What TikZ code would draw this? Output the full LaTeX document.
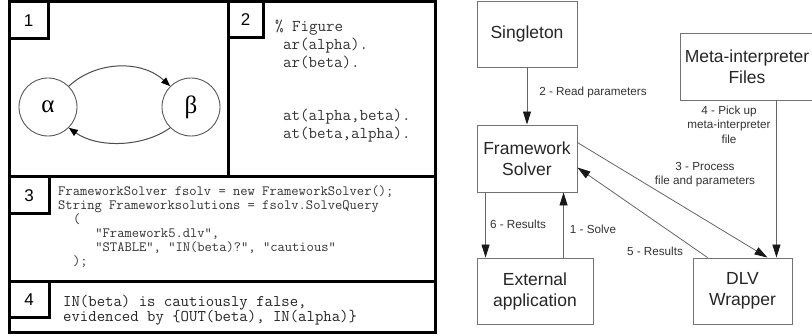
\documentclass[tikz,border=0pt]{standalone}
\usepackage{fontspec}
\setmainfont{Liberation Sans}
\newfontfamily\grkfont{Liberation Serif}
\usetikzlibrary{arrows.meta}
\begin{document}
\begin{tikzpicture}[x=1pt,y=-1pt,
  frame/.style={line width=3pt, draw=black},
  numbox/.style={draw=black, line width=3pt, inner sep=0, font=\fontsize{17}{20}\selectfont},
  circ/.style={circle, draw=black!65, line width=0.9pt, minimum size=58pt, inner sep=0, font=\grkfont\fontsize{25}{28}\selectfont},
  carr/.style={draw=black!70, line width=1pt, -{Triangle[length=9pt,width=7pt,color=black]}},
  codeA/.style={font=\ttfamily\fontsize{16.5}{17}\selectfont\frenchspacing, anchor=base west, inner sep=0, text=black!80},
  codeB/.style={font=\ttfamily\fontsize{14.15}{14}\selectfont\frenchspacing, anchor=base west, inner sep=0, text=black!80},
  codeC/.style={font=\ttfamily\fontsize{16.3}{17}\selectfont\frenchspacing, anchor=base west, inner sep=0, text=black!85},
  box/.style={draw=black!55, line width=0.9pt, font=\fontsize{17.5}{21}\selectfont, text=black!85, align=center, inner sep=0},
  arr/.style={draw=black!60, line width=0.8pt, -{Triangle[length=13pt,width=8pt,color=black!90]}},
  lbl/.style={font=\fontsize{11.7}{14.5}\selectfont, text=black!80, align=center, inner sep=0}
]
\clip (0,0) rectangle (812,336);
\fill[white] (0,0) rectangle (812,336);

% ---- left frame ----
\draw[frame] (9,2) rectangle (435,333);
\draw[frame] (228,2) -- (228,177);
\draw[frame] (9,177) -- (435,177);
\draw[frame] (9,282) -- (435,282);

\node[numbox, minimum width=39pt, minimum height=37pt] (n1) at (28.5,20.5) {1};
\node[numbox, minimum width=35pt, minimum height=36pt] (n2) at (245.5,20) {2};
\node[numbox, minimum width=40pt, minimum height=37pt] (n3) at (29,195.5) {3};
\node[numbox, minimum width=40pt, minimum height=36pt] (n4) at (29,300) {4};

% panel 1
\node[circ] (al) at (48,107) {α};
\node[circ] (be) at (191,107) {β};
\draw[carr] (al.45) .. controls +(28,-26) and +(-28,-26) .. (be.135);
\draw[carr] (be.-135) .. controls +(-28,20) and +(28,20) .. (al.-45);

% panel 2
\node[codeA] (c2a) at (275,32) {\%\ Figure};
\node[codeA] (c2b) at (283,50) {ar(alpha).};
\node[codeA] (c2c) at (283,68) {ar(beta).};
\node[codeA] (c2d) at (283,121) {at(alpha,beta).};
\node[codeA] (c2e) at (283,139) {at(beta,alpha).};

% panel 3
\node[codeB] (c3a) at (58,196) {FrameworkSolver fsolv = new FrameworkSolver();};
\node[codeB] (c3b) at (58,210) {String Frameworksolutions = fsolv.SolveQuery};
\node[codeB] (c3c) at (72.9,224) {(};
\node[codeB] (c3d) at (95.2,238) {"Framework5.dlv",};
\node[codeB] (c3e) at (95.2,252) {"STABLE", "IN(beta)?", "cautious"};
\node[codeB] (c3f) at (72.9,266) {);};

% panel 4
\node[codeC] (c4a) at (63,307) {IN(beta) is cautiously false,};
\node[codeC] (c4b) at (63,322) {evidenced by \{OUT(beta), IN(alpha)\}};

% ---- right diagram ----
\node[box, minimum width=100pt, minimum height=66pt] (sing) at (527,34) {Singleton};
\node[box, minimum width=100pt, minimum height=67pt] (fs) at (527,158.5) {Framework\\Solver};
\node[box, minimum width=116pt, minimum height=66pt] (ext) at (535,291) {External\\application};
\node[box, minimum width=99pt, minimum height=66pt] (dlv) at (742.5,291) {DLV\\Wrapper};
\node[box, minimum width=134pt, minimum height=67pt] (meta) at (747,66.5) {Meta-interpreter\\Files};

\draw[arr] (sing.south) -- (fs.north);
\coordinate (m4) at ([xshift=-16pt]dlv.north east);
\draw[arr] (m4 |- meta.south) -- (m4);
\draw[arr] ([yshift=-18pt]fs.north east) -- ([xshift=-25pt]dlv.north east);
\draw[arr] ([xshift=15pt]dlv.north west) -- ([yshift=-43pt]fs.north east);
\draw[arr] ([xshift=9pt]fs.south west) -- ([xshift=9pt]ext.north west);
\draw[arr] ([xshift=87pt]ext.north west) -- ([xshift=87pt]fs.south west);

\node[lbl] (l2) at (593,92) {2 - Read parameters};
\node[lbl] (l4) at (729,124.5) {4 - Pick up\\meta-interpreter\\file};
\node[lbl] (l3) at (705,174.5) {3 - Process\\file and parameters};
\node[lbl] (l5) at (655,251) {5 - Results};
\node[lbl] (l1) at (593,229) {1 - Solve};
\node[lbl] (l6) at (518,224) {6 - Results};
\end{tikzpicture}
\end{document}
